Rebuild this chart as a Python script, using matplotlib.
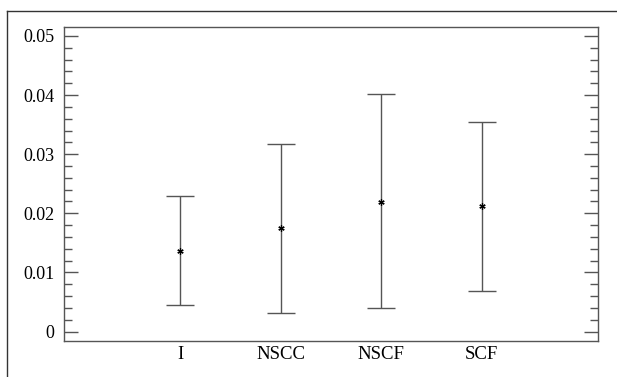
import matplotlib
matplotlib.use("Agg")
import matplotlib.pyplot as plt
from matplotlib.lines import Line2D
from matplotlib.ticker import MultipleLocator

categories = ["I", "NSCC", "NSCF", "SCF"]
means = [0.0137, 0.0175, 0.0219, 0.0213]
upper = [0.0229, 0.0318, 0.0401, 0.0355]
lower = [0.0045, 0.0032, 0.0039, 0.0069]
yticks = [0, 0.01, 0.02, 0.03, 0.04, 0.05]
ytick_labels = ["0", "0.01", "0.02", "0.03", "0.04", "0.05"]

plt.rcParams['font.family'] = ['Liberation Serif', 'DejaVu Serif']

W, H = 617, 377
fig = plt.figure(figsize=(W/100, H/100), dpi=100)
ax = fig.add_axes([64/W, 1-340.5/H, (598-64)/W, (340.5-27)/H])

# outer frame (left and top)
fc = '#333333'
fig.add_artist(Line2D([7/W, 7/W], [0, 1-10.5/H], color=fc, lw=1.0, transform=fig.transFigure))
fig.add_artist(Line2D([7/W, 1.0], [1-10.5/H, 1-10.5/H], color=fc, lw=1.0, transform=fig.transFigure))

x = list(range(1, len(categories)+1))
yerr = [[m - l for m, l in zip(means, lower)], [u - m for m, u in zip(means, upper)]]
ax.errorbar(x, means, yerr=yerr, fmt='none', ecolor='#555555', elinewidth=1.0,
            capsize=10, capthick=1.0)
ax.plot(x, means, linestyle='none', marker=(6, 2, 0), markersize=4.5,
        markeredgewidth=0.9, color='black')

ax.set_xlim(-0.16, 5.16)
ax.set_ylim(-0.00152, 0.05152)
ax.set_xticks(x)
ax.set_xticklabels(categories)
ax.set_yticks(yticks)
ax.set_yticklabels(ytick_labels)
ax.yaxis.set_minor_locator(MultipleLocator(0.002))

ax.tick_params(axis='y', which='major', direction='in', length=10, width=1.0,
               color='#555555', left=True, right=True, labelsize=13, pad=7)
ax.tick_params(axis='y', which='minor', direction='in', length=6, width=1.0,
               color='#555555', left=True, right=True)
ax.tick_params(axis='x', which='both', length=0, labelsize=13.5, pad=4)
for s in ax.spines.values():
    s.set_color('#555555')
    s.set_linewidth(1.0)

fig.savefig("out.png", dpi=100)
